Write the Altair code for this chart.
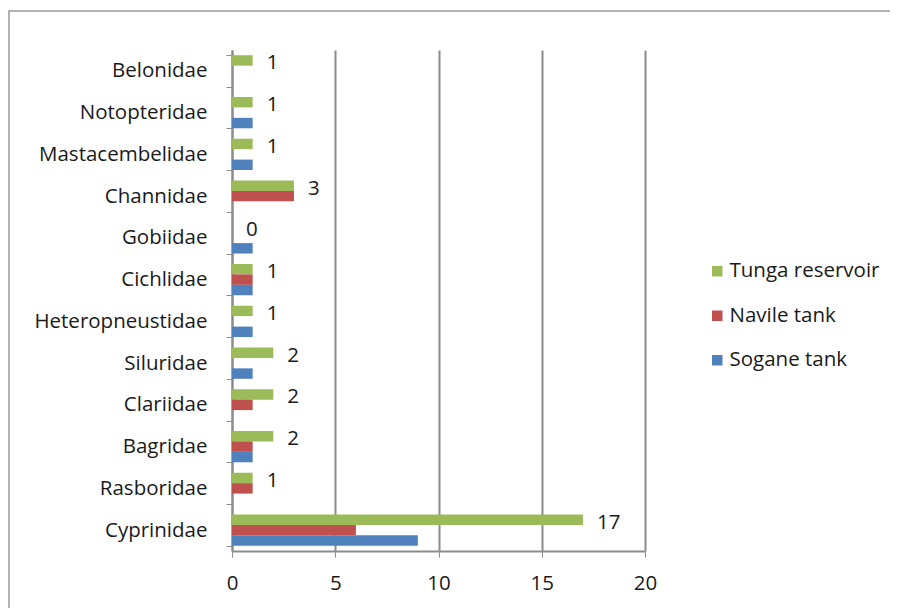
import altair as alt
import pandas as pd

families = ["Belonidae", "Notopteridae", "Mastacembelidae", "Channidae", "Gobiidae",
            "Cichlidae", "Heteropneustidae", "Siluridae", "Clariidae", "Bagridae",
            "Rasboridae", "Cyprinidae"]
series = ["Tunga reservoir", "Navile tank", "Sogane tank"]
tunga = [1, 1, 1, 3, 0, 1, 1, 2, 2, 2, 1, 17]
navile = [0, 0, 0, 3, 0, 1, 0, 0, 1, 1, 1, 6]
sogane = [0, 1, 1, 0, 1, 1, 1, 1, 0, 1, 0, 9]
colors = ["#9BBB59", "#C0504D", "#4F81BD"]
x_ticks = [0, 5, 10, 15, 20]

rows = []
for s, vals in zip(series, [tunga, navile, sogane]):
    for f, v in zip(families, vals):
        rows.append({"family": f, "series": s, "value": v})
df = pd.DataFrame(rows)

FONT = "Open Sans"
FS = 20.5
GRAY = "#8C8C8C"
TXT = "#1a1a1a"

y_enc = alt.Y("family:N", sort=families,
              scale=alt.Scale(paddingInner=0.25, paddingOuter=0.125),
              axis=alt.Axis(title=None, labelFontSize=FS, labelFont=FONT, labelColor=TXT,
                            labelPadding=19, domainColor=GRAY, domainWidth=2, tickColor=GRAY,
                            tickSize=6, tickBand="extent", grid=False))
x_enc = alt.X("value:Q", scale=alt.Scale(domain=[0, 20], nice=False),
              axis=alt.Axis(title=None, values=x_ticks, labelFontSize=FS, labelFont=FONT,
                            labelColor=TXT, labelPadding=16, domainColor=GRAY,
                            domainWidth=2, tickColor=GRAY, tickSize=6, grid=True,
                            gridColor=GRAY, gridWidth=2, labelFlush=False))
yoff = alt.YOffset("series:N", sort=series, scale=alt.Scale(domain=series))

bars = alt.Chart(df).mark_bar(stroke=None).encode(
    x=x_enc, y=y_enc, yOffset=yoff,
    color=alt.Color("series:N", scale=alt.Scale(domain=series, range=colors),
                    legend=alt.Legend(title=None, orient="none", legendX=475, legendY=211,
                                      symbolType="square", symbolSize=110, symbolStrokeWidth=0,
                                      labelFontSize=FS, labelFont=FONT, labelColor=TXT,
                                      rowPadding=23.5, labelOffset=2)),
)

labels = alt.Chart(df).transform_filter(alt.datum.series == "Tunga reservoir").mark_text(
    align="left", baseline="middle", dx=14, dy=3, fontSize=FS, font=FONT, color=TXT
).encode(x="value:Q", y=alt.Y("family:N", sort=families), yOffset=yoff, text="value:Q")

frame = alt.Chart(pd.DataFrame({"a": [0]})).mark_rect(fill=None, stroke="#9a9a9a", strokeWidth=1.5).encode(
    x=alt.value(-223), x2=alt.value(700), y=alt.value(-39), y2=alt.value(620)
)

chart = alt.layer(frame, bars, labels).properties(
    width=413, height=501,
    autosize=alt.AutoSizeParams(type="none"),
    padding={"left": 224, "top": 42, "right": 245, "bottom": 57},
    background="white",
).configure_view(stroke=None)

chart.save("out.html", embed_options={"renderer": "svg", "actions": False})
